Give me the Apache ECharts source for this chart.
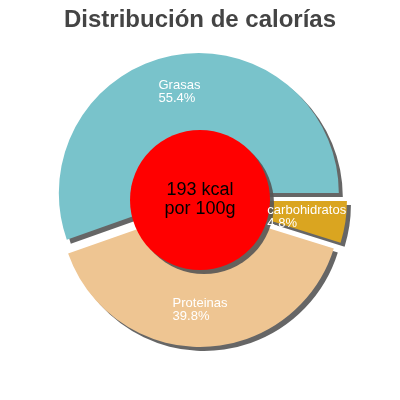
<!DOCTYPE html>
<html>
<head>
<meta charset="utf-8">
<script src="https://cdn.jsdelivr.net/npm/echarts@6/dist/echarts.min.js"></script>
<style>html,body{margin:0;padding:0;background:#fff}#c{width:400px;height:400px}</style>
</head>
<body>
<div id="c"></div>
<script>
const titleText = 'Distribución de calorías';
const categories = ['Grasas', 'Proteinas', 'carbohidratos'];
const percents = [55.4, 39.8, 4.8];
const sliceColors = ['#79c3cb', '#eec592', '#daa520'];
const kcal = 193;
const centerLabel = kcal + ' kcal\npor 100g';

const labelFont = '13px "Liberation Sans"';
const measureCtx = document.createElement('canvas').getContext('2d');
function blockWidth(text) {
  measureCtx.font = labelFont;
  return Math.max.apply(null, text.split('\n').map(t => measureCtx.measureText(t).width));
}

const chart = echarts.init(document.getElementById('c'), null, {renderer: 'canvas'});
const shadow = {shadowBlur: 0, shadowOffsetX: 4, shadowOffsetY: 4, shadowColor: 'rgba(85,85,85,0.9)'};
const slicePie = {
  type: 'pie',
  center: ['50%', '50%'],
  radius: ['30%', '70%'],
  startAngle: 0,
  clockwise: false,
  selectedMode: 'multiple',
  selectedOffset: 7,
  emphasis: {disabled: true},
  labelLine: {show: false}
};
chart.setOption({
  animation: false,
  backgroundColor: '#ffffff',
  title: {
    text: titleText, left: 'center', top: 3,
    textStyle: {fontFamily: 'Liberation Sans', fontSize: 24, fontWeight: 'bold', color: '#444444'}
  },
  series: [
    Object.assign({}, slicePie, {
      itemStyle: Object.assign({borderWidth: 0, borderRadius: 0}, shadow),
      label: {show: false},
      data: categories.map((n, i) => ({name: n, value: percents[i], selected: true, itemStyle: {color: sliceColors[i]}}))
    }),
    {
      type: 'pie',
      center: ['50%', '50%'],
      radius: [0, '35%'],
      silent: true,
      emphasis: {disabled: true},
      itemStyle: Object.assign({color: '#ff0000', borderWidth: 0}, shadow),
      label: {
        show: true, position: 'center', formatter: centerLabel,
        color: '#000000', fontFamily: 'Liberation Sans', fontSize: 18, lineHeight: 19
      },
      labelLine: {show: false},
      data: [{name: 'kcal', value: kcal}]
    },
    Object.assign({}, slicePie, {
      silent: true,
      itemStyle: {color: 'rgba(0,0,0,0)', borderWidth: 0, shadowBlur: 0, shadowColor: 'rgba(0,0,0,0)'},
      label: {
        show: true, position: 'inside',
        formatter: p => p.name + '\n' + p.value.toFixed(1) + '%',
        color: '#ffffff', fontFamily: 'Liberation Sans', fontSize: 13, lineHeight: 13,
        textBorderWidth: 0
      },
      labelLayout: p => ({align: 'left', verticalAlign: 'middle', dx: -blockWidth(p.text) / 2 - 2}),
      data: categories.map((n, i) => ({name: n, value: percents[i], selected: true}))
    })
  ]
});
</script>
</body>
</html>
